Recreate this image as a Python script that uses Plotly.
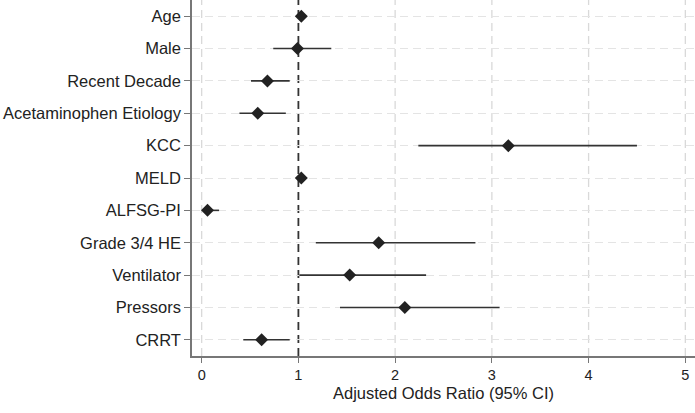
"""
Forest plot of adjusted odds ratios (95% CI) for each predictor.
"""

import plotly.graph_objects as go

VARIABLES = [
    "Age", "Male", "Recent Decade", "Acetaminophen Etiology", "KCC", "MELD",
    "ALFSG-PI", "Grade 3/4 HE", "Ventilator", "Pressors", "CRRT",
]
ODDS_RATIO = [1.03, 0.99, 0.68, 0.58, 3.17, 1.03, 0.06, 1.83, 1.53, 2.10, 0.62]
CI_LOW = [1.02, 0.74, 0.51, 0.39, 2.24, 1.02, 0.02, 1.18, 1.01, 1.43, 0.43]
CI_HIGH = [1.04, 1.34, 0.91, 0.87, 4.50, 1.04, 0.18, 2.83, 2.32, 3.08, 0.91]

X_TICKS = [0, 1, 2, 3, 4, 5]
NULL_OR = 1
FONT = "Liberation Sans, Arial, sans-serif"
INK = "#222222"
GRID = "#e4e4e4"


def build_figure():
    plus = [h - m for h, m in zip(CI_HIGH, ODDS_RATIO)]
    minus = [m - l for m, l in zip(ODDS_RATIO, CI_LOW)]

    fig = go.Figure()
    fig.add_trace(go.Scatter(
        x=ODDS_RATIO,
        y=VARIABLES,
        mode="markers",
        marker=dict(symbol="diamond", size=10, color=INK),
        error_x=dict(
            type="data",
            symmetric=False,
            array=plus,
            arrayminus=minus,
            width=0,
            thickness=1.6,
            color="#333333",
        ),
        showlegend=False,
    ))

    # Vertical grid drawn by hand so it does not double up with the null line.
    for t in X_TICKS:
        if t == NULL_OR:
            continue
        fig.add_shape(
            type="line", xref="x", yref="paper",
            x0=t, x1=t, y0=0, y1=1,
            line=dict(color="#d9d9d9", width=1.3, dash="8px,5px"),
            layer="between",
        )

    # Null-effect reference line at OR = 1.
    fig.add_shape(
        type="line", xref="x", yref="paper",
        x0=NULL_OR, x1=NULL_OR, y0=0, y1=1,
        line=dict(color="#333333", width=1.8, dash="8px,5px"),
        layer="between",
    )

    fig.update_layout(
        width=695,
        height=413,
        plot_bgcolor="white",
        paper_bgcolor="white",
        font=dict(family=FONT, size=16.5, color=INK),
        margin=dict(l=192, r=0, t=0, b=57, autoexpand=False),
        xaxis=dict(
            range=[-0.1, 5.1],
            tickvals=X_TICKS,
            tickfont=dict(size=14.5),
            ticks="outside",
            ticklen=5,
            tickcolor="#777777",
            showline=True,
            linecolor="#777777",
            linewidth=1.5,
            showgrid=False,
            zeroline=False,
            automargin=False,
            title=dict(text="Adjusted Odds Ratio (95% CI)", standoff=5,
                       font=dict(size=16.5)),
        ),
        yaxis=dict(
            categoryorder="array",
            categoryarray=VARIABLES,
            range=[10.5, -0.5],
            ticks="outside",
            ticklen=6,
            tickcolor="#777777",
            showline=True,
            linecolor="#777777",
            linewidth=1.5,
            showgrid=True,
            gridcolor=GRID,
            griddash="8px,5px",
            zeroline=False,
            automargin=False,
        ),
    )
    return fig


def main():
    fig = build_figure()
    # Drop the browser's default body margin so the figure sits at (0, 0).
    fig.write_html(
        "out.html",
        config={"displayModeBar": False},
        post_script="document.body.style.margin = '0';",
    )


if __name__ == "__main__":
    main()
